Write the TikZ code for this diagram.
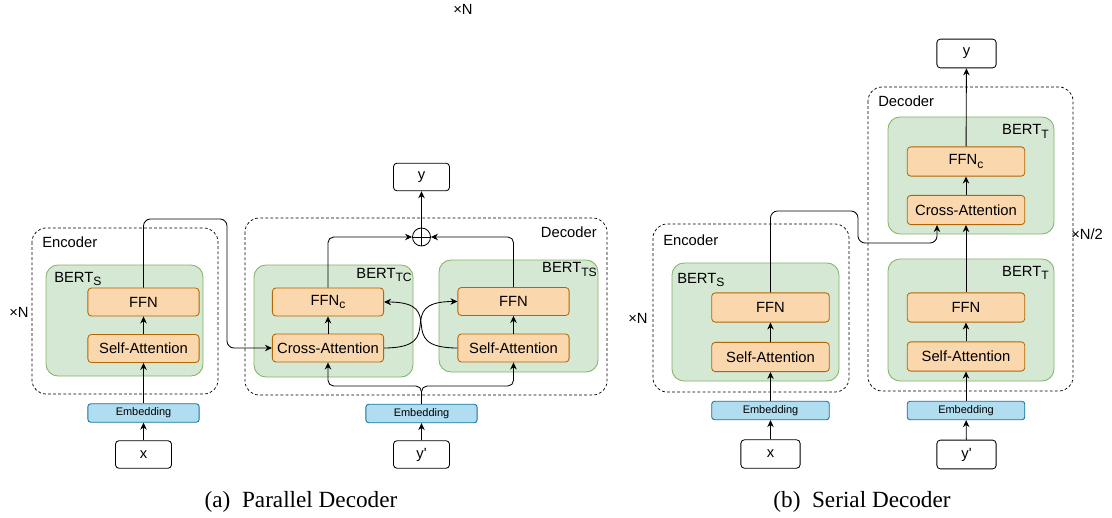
\documentclass[tikz,border=0pt]{standalone}
\usepackage{fontspec}
\setmainfont{Liberation Sans}
\newfontfamily\capfont{Liberation Serif}
\usepackage{tikz}
\usetikzlibrary{positioning,arrows.meta,calc}
\definecolor{bertFill}{HTML}{D5E8D4}
\definecolor{bertLine}{HTML}{82B366}
\definecolor{layerFill}{HTML}{FAD7AC}
\definecolor{layerLine}{HTML}{B46504}
\definecolor{embFill}{HTML}{B1DDF0}
\definecolor{embLine}{HTML}{10739E}
\newcommand{\lowsub}[1]{\raisebox{-0.4ex}{\fontsize{8.6}{9}\selectfont #1}}

\begin{document}
\begin{tikzpicture}[
  x=0.025cm, y=-0.025cm,
  font=\fontsize{10.5}{12.5}\selectfont,
  groupBox/.style={draw, dash pattern=on 2pt off 1.6pt, rounded corners=0.35cm,
                   line width=0.5pt},
  bertBox/.style={draw=bertLine, fill=bertFill, rounded corners=0.3cm,
                  line width=0.6pt},
  layerBox/.style={draw=layerLine, fill=layerFill, rounded corners=2.5pt,
                   minimum width=2.78cm, minimum height=0.7cm, inner sep=0pt,
                   line width=0.6pt},
  wideBox/.style={layerBox, minimum width=2.94cm, minimum height=0.73cm},
  embBox/.style={draw=embLine, fill=embFill, rounded corners=2pt,
                 minimum width=2.78cm, minimum height=0.46cm, inner sep=0pt,
                 line width=0.6pt, font=\fontsize{7.8}{9}\selectfont},
  ioBox/.style={draw, fill=white, rounded corners=2.5pt, minimum width=1.4cm,
                minimum height=0.69cm, inner sep=0pt, line width=0.6pt},
  tagText/.style={inner sep=0pt},
  capText/.style={font=\capfont\fontsize{16.5}{19}\selectfont, anchor=base},
  conn/.style={->, line width=0.6pt},
  >={Stealth[length=5pt,width=4.6pt]}
]
  \useasboundingbox (0,0) rectangle (1112,518);

  % stray repeat mark at the top
  \node[tagText, anchor=base west] (repTop) at (453,15) {×N};

  % ---------- (a) parallel decoder ----------
  % Encoder
  \draw[groupBox] (32,228) rectangle (218,394);
  \node[tagText, anchor=base west] (encTagA) at (42,247) {Encoder};
  \node[tagText, anchor=base west] (repA) at (9,317) {×N};
  \draw[bertBox] (46,265) rectangle (203,376);
  \node[tagText, anchor=base west] (bertTagA) at (54,282) {BERT\lowsub{S}};
  \node[layerBox] (ffnA) at (143.5,302) {FFN};
  \node[layerBox] (saA) at (143.5,348.5) {Self-Attention};
  \node[embBox] (embA) at (143.5,413) {Embedding};
  \node[ioBox] (xA) at (143.5,454.5) {x};

  \draw[conn] (xA) -- (embA);
  \draw[conn] (embA) -- (saA);
  \draw[conn] (saA) -- (ffnA);

  % Decoder
  \draw[groupBox] (245,218) rectangle (607,395);
  \node[tagText, anchor=base east] (decTagA) at (597,237) {Decoder};
  \draw[bertBox] (254,265) rectangle (413,377);
  \node[tagText, anchor=base east] (tcTag) at (412,278) {BERT\lowsub{TC}};
  \draw[bertBox] (439,260) rectangle (598,372);
  \node[tagText, anchor=base east] (tsTag) at (597,273) {BERT\lowsub{TS}};
  \node[layerBox] (ffnC) at (328,302) {FFN\lowsub{c}};
  \node[layerBox] (crossA) at (328,348) {Cross-Attention};
  \node[layerBox] (ffnB) at (513.5,301.5) {FFN};
  \node[layerBox] (saB) at (513.5,348) {Self-Attention};
  \node[embBox] (embB) at (421.5,413.5) {Embedding};
  \node[ioBox] (ypA) at (421.5,454.5) {y\textquotesingle};
  \node[circle, draw, minimum size=0.45cm, inner sep=0pt, line width=0.6pt]
    (plus) at (421.5,237) {};
  \draw[line width=0.6pt] (plus.north) -- (plus.south) (plus.west) -- (plus.east);
  \node[ioBox] (yA) at (421.5,177) {y};

  \draw[conn] (ypA) -- (embB);
  \coordinate (splitA) at (421.5,386);
  \draw[conn, rounded corners=4pt] (embB.north) -- (splitA) -| (crossA.south);
  \draw[conn, rounded corners=4pt] (embB.north) -- (splitA) -| (saB.south);
  \draw[conn] (crossA) -- (ffnC);
  \draw[conn] (saB) -- (ffnB);
  % crossing links between the two branches
  \draw[conn] (crossA.east) .. controls +(66,0) and +(-66,0) .. (ffnB.west);
  \draw[conn] (saB.west) .. controls +(-66,0) and +(66,0) .. (ffnC.east);
  \draw[conn, rounded corners=4pt] (ffnC.north) |- (plus.west);
  \draw[conn, rounded corners=4pt] (ffnB.north) |- (plus.east);
  \draw[conn] (plus) -- (yA);

  % encoder output into cross-attention
  \coordinate (bendA) at (227,219);
  \draw[conn, rounded corners=5pt] (ffnA.north) |- (bendA) |- (crossA.west);

  \node[capText] (capA) at (301,507) {(a)\enspace Parallel Decoder};

  % ---------- (b) serial decoder ----------
  % Encoder
  \draw[groupBox] (653,224) rectangle (849,392);
  \node[tagText, anchor=base west] (encTagB) at (663,245) {Encoder};
  \node[tagText, anchor=base west] (repB) at (628,323) {×N};
  \draw[bertBox] (672,263) rectangle (839,381);
  \node[tagText, anchor=base west] (bertTagB) at (677,283) {BERT\lowsub{S}};
  \node[wideBox] (ffnS) at (770.5,307.5) {FFN};
  \node[wideBox] (saS) at (770.5,357) {Self-Attention};
  \node[embBox, minimum width=2.94cm] (embS) at (770.5,410.5) {Embedding};
  \node[ioBox, minimum width=1.48cm, minimum height=0.71cm] (xS) at (770.5,454) {x};

  \draw[conn] (xS) -- (embS);
  \draw[conn] (embS) -- (saS);
  \draw[conn] (saS) -- (ffnS);

  % Decoder
  \draw[groupBox] (868,87) rectangle (1073,391);
  \node[tagText, anchor=base west] (decTagB) at (878,107) {Decoder};
  \node[tagText, anchor=base west] (repHalf) at (1071,239) {×N/2};
  \draw[bertBox] (888,117) rectangle (1054,234);
  \node[tagText, anchor=base east] (topTag) at (1049,135) {BERT\lowsub{T}};
  \draw[bertBox] (888,259) rectangle (1054,381);
  \node[tagText, anchor=base east] (botTag) at (1049,276) {BERT\lowsub{T}};
  \node[wideBox] (ffnCS) at (966,161.5) {FFN\lowsub{c}};
  \node[wideBox] (crossS) at (966,210) {Cross-Attention};
  \node[wideBox] (ffnT) at (966,307.5) {FFN};
  \node[wideBox] (saT) at (966,356.5) {Self-Attention};
  \node[embBox, minimum width=2.94cm] (embT) at (966,410.5) {Embedding};
  \node[ioBox, minimum width=1.48cm, minimum height=0.72cm] (ypS) at (966.5,454.5) {y\textquotesingle};
  \node[ioBox, minimum width=1.48cm, minimum height=0.72cm] (yS) at (966.5,53.5) {y};

  \draw[conn] (ypS) -- (embT);
  \draw[conn] (embT) -- (saT);
  \draw[conn] (saT) -- (ffnT);
  \draw[conn] (ffnT) -- (crossS);
  \draw[conn] (crossS) -- (ffnCS);
  \draw[conn] (ffnCS) -- (yS);

  % encoder output into cross-attention
  \coordinate (bendS1) at (858,211);
  \coordinate (bendS2) at (937,243);
  \draw[conn, rounded corners=5pt] (ffnS.north) |- (bendS1) |- (bendS2)
    -- (bendS2 |- crossS.south);

  \node[capText] (capB) at (862,507) {(b)\enspace Serial Decoder};
\end{tikzpicture}
\end{document}
